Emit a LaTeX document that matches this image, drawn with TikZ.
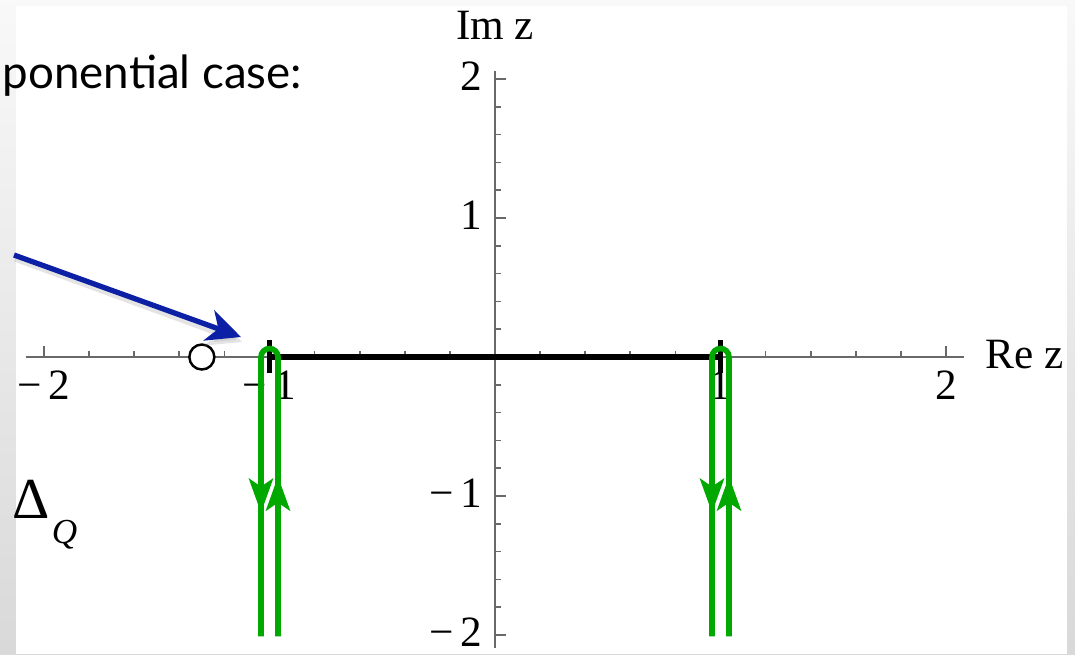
\documentclass[tikz,border=0pt]{standalone}
\usepackage{fontspec}
\setmainfont{Liberation Serif}
\newfontfamily\slidefont{Lato}
\usetikzlibrary{arrows.meta,calc}
\definecolor{contour}{RGB}{0,168,0}
\definecolor{pointer}{RGB}{12,32,165}
\definecolor{axisgray}{RGB}{105,105,105}
\tikzset{
  axisline/.style={draw=axisgray, line width=0.6pt},
  tickmark/.style={draw=axisgray, line width=0.5pt},
  ticklbl/.style={font=\fontsize{12.3}{12}\selectfont, inner sep=0pt},
  cutline/.style={draw=black, line width=1.5pt},
  branchbar/.style={draw=black, line width=1.4pt},
  contourline/.style={draw=contour, line width=1.6pt},
  contourtip/.style={-{Stealth[length=3.4mm,width=2.4mm,inset=0.8mm]}, draw=contour, fill=contour, line width=1.6pt},
  pointerarrow/.style={-{Stealth[length=3.4mm,width=3.2mm,inset=1mm]}, draw=#1, line width=1.5pt},
  pointerarrow/.default={pointer},
  pole/.style={draw=black, fill=white, circle, minimum size=0.25cm, inner sep=0pt, line width=0.7pt}
}
\begin{document}
\begin{tikzpicture}
  \useasboundingbox (0,0) rectangle (10.75,6.54);
  \clip (0,0) rectangle (10.75,6.54);
  \shade[top color=gray!5, bottom color=gray!30] (0,0) rectangle (10.75,6.54);
  \fill[white] (0.165,0) rectangle (10.67,6.48);
  \node[font=\slidefont\fontsize{13}{13}\selectfont, anchor=base west, inner sep=0pt] (title) at (0.02,5.66) {ponential case:};
  \node[anchor=base west, inner sep=0pt] (delta) at (0.12,1.36) {\fontsize{16.5}{16}\selectfont Δ\kern0.02cm\raisebox{-0.25cm}{\fontsize{10}{10}\selectfont\itshape Q}};
  \begin{scope}[shift={(4.95,2.97)}, x=2.255cm, y=1.39cm]
    \draw[axisline] (-2.08,0) -- (2.08,0);
    \draw[axisline] (0,-2.09) -- (0,2.06);
    \foreach \k in {-10,...,10} {
      \draw[tickmark] (\k/5,0) -- ++(0,0.06cm);
      \draw[tickmark] (0,\k/5) -- ++(0.06cm,0);
    }
    \foreach \k in {-2,-1,1,2} {
      \draw[tickmark] (\k,0) -- ++(0,0.11cm);
      \draw[tickmark] (0,\k) -- ++(0.11cm,0);
    }
    \foreach \v/\s/\n in {-2/{−\,2}/m2, -1/{−\,1}/m1, 1/1/p1, 2/2/p2} {
      \node[ticklbl, anchor=north] (re\n) at (\v,0) [yshift=-0.13cm] {\s};
      \node[ticklbl, anchor=east] (im\n) at (0,\v) [xshift=-0.12cm, yshift=0.03cm] {\s};
    }
    \node[ticklbl, anchor=base west] (relbl) at (2.08,0) [xshift=0.21cm, yshift=-0.11cm] {Re z};
    \node[ticklbl, anchor=base] (imlbl) at (0,2.06) [yshift=0.31cm] {Im z};
    \draw[cutline] (-1,0) -- (1,0);
    \foreach \c in {-1,1} \draw[branchbar] (\c,0.122) -- (\c,-0.115);
    \node[pole] (pole) at (-1.3,0) {};
    \foreach \c in {-1,1} {
      \draw[contourline] ($(\c,-2.01)+(0.085cm,0)$) -- ($(\c,0)+(0.085cm,0)$)
        arc[start angle=0, end angle=180, radius=0.085cm] -- ($(\c,-2.01)+(-0.085cm,0)$);
      \draw[contourtip] ($(\c,-0.86)+(-0.085cm,0)$) -- ($(\c,-1.12)+(-0.085cm,0)$);
      \draw[contourtip] ($(\c,-1.12)+(0.085cm,0)$) -- ($(\c,-0.86)+(0.085cm,0)$);
    }
  \end{scope}
  \coordinate (ptail) at (0.14,3.99);
  \coordinate (ptip) at (2.41,3.17);
  \draw[pointerarrow={black!30}, opacity=0.35] ($(ptail)+(0.01,-0.04)$) -- ($(ptip)+(0.01,-0.05)$);
  \draw[pointerarrow] (ptail) -- (ptip);
\end{tikzpicture}
\end{document}
